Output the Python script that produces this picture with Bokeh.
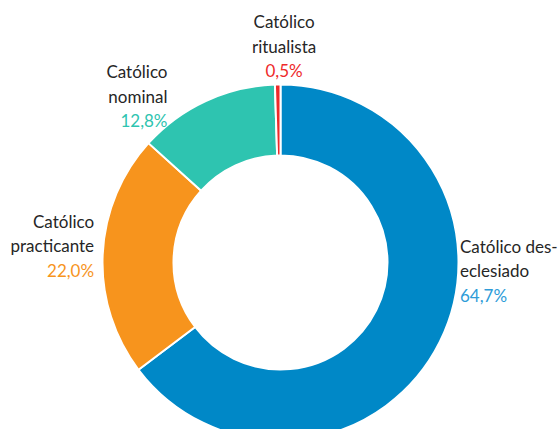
from math import pi
from bokeh.plotting import figure
from bokeh.models import Range1d, ColumnDataSource
from bokeh.core.properties import value
from bokeh.embed import file_html
from bokeh.resources import INLINE

# data
categories = ["Católico des-\neclesiado", "Católico\npracticante", "Católico\nnominal", "Católico\nritualista"]
values = [64.7, 22.0, 12.8, 0.5]
pct_labels = ["64,7%", "22,0%", "12,8%", "0,5%"]
colors = ["#0088C7", "#F7941D", "#2EC4B0", "#EE2A2A"]
pct_colors = ["#2E9CD8", "#F7941D", "#2EC4B0", "#EE2A2A"]

W, H = 558, 429
p = figure(width=W, height=H, output_backend="svg", toolbar_location=None,
           x_range=Range1d(0, W), y_range=Range1d(0, H), min_border=0,
           outline_line_color=None, background_fill_color="white")
p.axis.visible = False
p.grid.visible = False

cx, cy = 280, H - 262
R_out, R_in = 178, 107

total = sum(values)
starts, ends = [], []
cum = 0.0
for v in values:
    starts.append(pi / 2 - 2 * pi * cum / total)
    cum += v
    ends.append(pi / 2 - 2 * pi * cum / total)

src = ColumnDataSource(dict(start=starts, end=ends, color=colors))
p.annular_wedge(x=cx, y=cy, inner_radius=R_in, outer_radius=R_out,
                start_angle="start", end_angle="end", direction="clock",
                fill_color="color", line_color="white", line_width=2, source=src)

# label layout: anchor (screen px from top-left), alignment
anchors = [(459.5, 245.5, "left"), (93.6, 220.6, "right"), (167, 71, "right"), (283.6, 21, "center")]
line_h = 24.5
font = value("Lato")
fs = "17px"
for cat, pct, pc, (ax, ay, al) in zip(categories, pct_labels, pct_colors, anchors):
    lines = cat.split("\n")
    xs, ys, ts = [], [], []
    for i, ln in enumerate(lines):
        xs.append(ax)
        ys.append(H - (ay + i * line_h))
        ts.append(ln)
    p.text(x=xs, y=ys, text=ts, text_align=al, text_baseline="middle",
           text_font=font, text_font_size=fs, text_color="#262626")
    p.text(x=[ax], y=[H - (ay + len(lines) * line_h)], text=[pct],
           text_align=al, text_baseline="middle",
           text_font=font, text_font_size=fs, text_color=pc)

open("out.html", "w").write(file_html(p, INLINE))
